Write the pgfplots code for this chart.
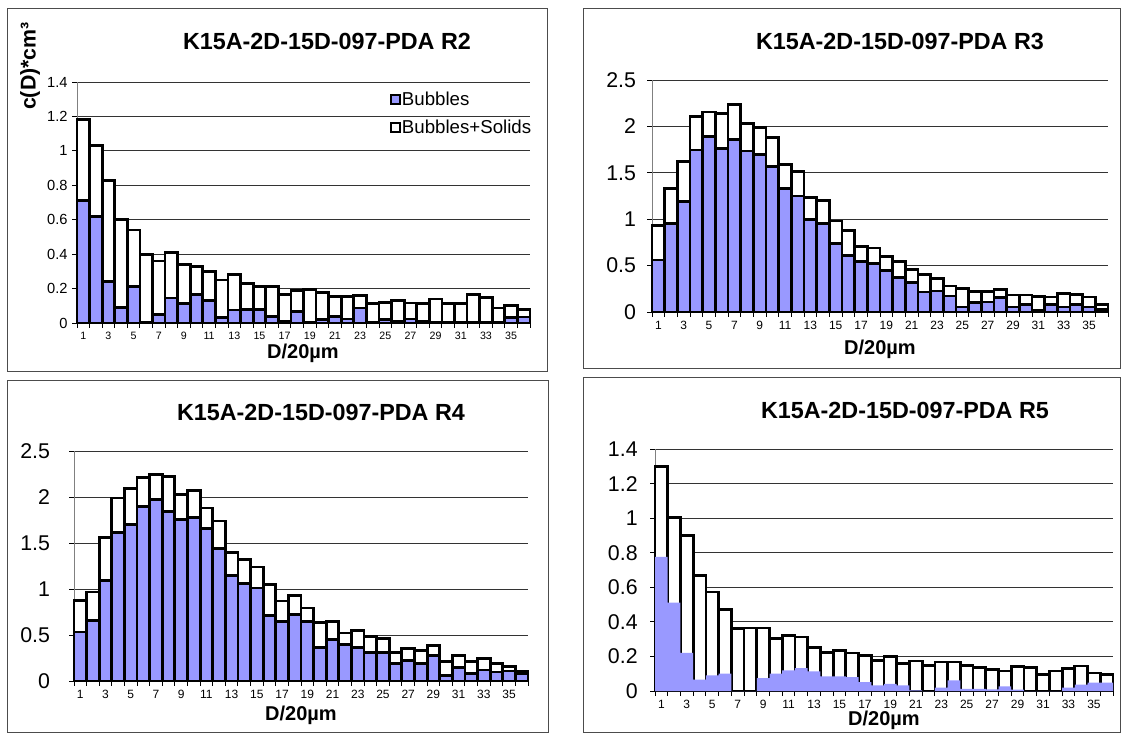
\documentclass[border=0pt]{standalone}
\usepackage{pgfplots}
\pgfplotsset{compat=1.18}
\usepackage{pgfplotstable}
\usepackage{fontspec}
\setmainfont{Liberation Sans}
\definecolor{bub}{HTML}{9999FF}
\def\u{0.75pt}

\pgfplotstableread{
x w b
1 1.18 0.71
2 1.03 0.62
3 0.83 0.24
4 0.60 0.09
5 0.54 0.21
6 0.40 0.005
7 0.36 0.05
8 0.41 0.145
9 0.34 0.115
10 0.33 0.165
11 0.30 0.13
12 0.25 0.03
13 0.28 0.075
14 0.23 0.077
15 0.21 0.077
16 0.21 0.04
17 0.165 0.01
18 0.187 0.068
19 0.193 0.004
20 0.178 0.02
21 0.154 0.04
22 0.154 0.023
23 0.16 0.087
24 0.112 0.005
25 0.12 0.02
26 0.13 0.01
27 0.116 0.023
28 0.112 0.01
29 0.139 0.005
30 0.112 0.005
31 0.112 0.005
32 0.164 0.005
33 0.149 0.005
34 0.087 0.005
35 0.10 0.033
36 0.077 0.035
}\dataA

\pgfplotstableread{
x w b
1 0.93 0.56
2 1.33 0.955
3 1.62 1.195
4 2.11 1.745
5 2.155 1.89
6 2.14 1.76
7 2.24 1.855
8 2.03 1.735
9 1.99 1.70
10 1.88 1.57
11 1.59 1.335
12 1.51 1.25
13 1.23 1.0
14 1.205 0.953
15 0.98 0.737
16 0.875 0.61
17 0.71 0.543
18 0.69 0.52
19 0.60 0.45
20 0.54 0.37
21 0.46 0.317
22 0.405 0.216
23 0.36 0.227
24 0.28 0.173
25 0.255 0.054
26 0.22 0.10
27 0.22 0.108
28 0.245 0.155
29 0.183 0.054
30 0.183 0.083
31 0.165 0.018
32 0.162 0.083
33 0.198 0.054
34 0.19 0.083
35 0.162 0.054
36 0.083 0.029
}\dataB

\pgfplotstableread{
x w b
1 0.877 0.533
2 0.967 0.66
3 1.558 1.094
4 1.99 1.61
5 2.09 1.70
6 2.21 1.90
7 2.246 1.975
8 2.225 1.844
9 2.03 1.757
10 2.07 1.78
11 1.88 1.66
12 1.74 1.44
13 1.40 1.15
14 1.32 1.06
15 1.24 1.01
16 1.05 0.715
17 0.87 0.65
18 0.93 0.722
19 0.794 0.643
20 0.64 0.368
21 0.65 0.451
22 0.523 0.397
23 0.549 0.368
24 0.487 0.314
25 0.458 0.314
26 0.307 0.188
27 0.35 0.227
28 0.336 0.188
29 0.386 0.278
30 0.21 0.061
31 0.278 0.144
32 0.21 0.083
33 0.242 0.119
34 0.188 0.097
35 0.155 0.108
36 0.108 0.079
}\dataC

\pgfplotstableread{
x w b
1 1.30 0.776
2 1.004 0.512
3 0.90 0.22
4 0.67 0.066
5 0.573 0.091
6 0.471 0.10
7 0.361 0.0
8 0.365 0.0
9 0.365 0.075
10 0.303 0.10
11 0.319 0.12
12 0.313 0.133
13 0.251 0.114
14 0.222 0.085
15 0.236 0.085
16 0.22 0.081
17 0.207 0.052
18 0.178 0.033
19 0.20 0.042
20 0.158 0.033
21 0.174 0.004
22 0.147 0.0
23 0.168 0.019
24 0.168 0.062
25 0.149 0.013
26 0.135 0.013
27 0.124 0.01
28 0.116 0.027
29 0.143 0.008
30 0.135 0.0
31 0.097 0.0
32 0.116 0.0
33 0.129 0.019
34 0.145 0.037
35 0.104 0.048
36 0.097 0.048
}\dataD

\pgfplotsset{
  panel/.style={
    scale only axis, anchor=south west, clip=false,
    xmin=0.5, xmax=36.5, ymin=0,
    axis x line*=bottom, axis y line*=left,
    x axis line style={black, line width=0.75pt},
    y axis line style={gray, line width=0.75pt},
    xtick={1,3,...,35},
    minor xtick={0.5,1.5,...,36.5},
    major x tick style={draw=none},
    minor x tick style={black, line width=0.75pt},
    y tick style={black, line width=0.75pt},
    tick align=outside,
    major tick length=3.5pt, minor tick length=3.5pt,
    ymajorgrids, major grid style={black!80, line width=0.75pt},
    /pgf/number format/assume math mode=true,
    xticklabel style={font=\fontsize{9}{10}\selectfont},
    yticklabel style={font=\fontsize{16}{18}\selectfont},
  },
  wbar/.style={ybar, bar shift=0pt, bar width=1, fill=white, draw=black, line width=2.1pt},
  bbar/.style={ybar, bar shift=0pt, bar width=1, fill=bub, draw=black, line width=2.1pt},
  nbar/.style={ybar, bar shift=0pt, bar width=1, fill=bub, draw=none},
}

\begin{document}
\begin{tikzpicture}
\path (0,0) rectangle (1123*\u,-733*\u);
% panel frames
\draw[gray!60!black, line width=0.75pt] (7*\u,-8*\u) rectangle (547*\u,-371*\u);
\draw[gray!60!black, line width=0.75pt] (583*\u,-8*\u) rectangle (1120*\u,-368*\u);
\draw[gray!60!black, line width=0.75pt] (7*\u,-380*\u) rectangle (548*\u,-732*\u);
\draw[gray!60!black, line width=0.75pt] (583*\u,-377*\u) rectangle (1120*\u,-732*\u);

% R2
\begin{axis}[panel, at={(77*\u,-323*\u)}, width=453*\u, height=241*\u,
  ymax=1.4, ytick={0,0.2,0.4,0.6,0.8,1,1.2,1.4},
  yticklabel style={font=\fontsize{11}{12}\selectfont},
  xticklabel style={font=\fontsize{8}{9}\selectfont},
  legend style={at={(0.690,0.965)}, anchor=north west, draw=none, fill=none,
    font=\fontsize{14}{15}\selectfont, row sep=7pt, inner sep=0pt,
    nodes={inner sep=1pt}},
  legend cell align=left, reverse legend]
\addplot[wbar, legend image code/.code={\draw[fill=white, draw=black, line width=1.3pt] (0pt,-3.4pt) rectangle (6.8pt,3.4pt);}] table[x=x,y=w]{\dataA};
\addlegendentry{Bubbles+Solids}
\addplot[bbar, legend image code/.code={\draw[fill=bub, draw=black, line width=1.3pt] (0pt,-3.4pt) rectangle (6.8pt,3.4pt);}] table[x=x,y=b]{\dataA};
\addlegendentry{Bubbles}
\end{axis}

% R3
\begin{axis}[panel, at={(652*\u,-312*\u)}, width=456*\u, height=232*\u,
  ymax=2.5, ytick={0,0.5,1,1.5,2,2.5},
  yticklabel style={xshift=-5pt}]
\addplot[wbar] table[x=x,y=w]{\dataB};
\addplot[bbar] table[x=x,y=b]{\dataB};
\end{axis}

% R4
\begin{axis}[panel, at={(74*\u,-681*\u)}, width=454*\u, height=230*\u,
  ymax=2.5, ytick={0,0.5,1,1.5,2,2.5},
  yticklabel style={xshift=-11pt}]
\addplot[wbar] table[x=x,y=w]{\dataC};
\addplot[bbar] table[x=x,y=b]{\dataC};
\end{axis}

% R5
\begin{axis}[panel, at={(655*\u,-691*\u)}, width=458*\u, height=242*\u,
  ymax=1.4, ytick={0,0.2,0.4,0.6,0.8,1,1.2,1.4},
  yticklabel style={xshift=-6pt}]
\addplot[wbar] table[x=x,y=w]{\dataD};
\addplot[nbar] table[x=x,y=b]{\dataD};
\end{axis}

% titles
\tikzset{ttl/.style={font=\bfseries\fontsize{17.5}{19}\selectfont, inner sep=0pt},
         xl/.style={font=\bfseries\fontsize{15}{16}\selectfont, inner sep=0pt}}
\node[ttl] at (327*\u,-41*\u) {K15A-2D-15D-097-PDA R2};
\node[ttl] at (900*\u,-41*\u) {K15A-2D-15D-097-PDA R3};
\node[ttl] at (321*\u,-412*\u) {K15A-2D-15D-097-PDA R4};
\node[ttl] at (905*\u,-410*\u) {K15A-2D-15D-097-PDA R5};
% x labels
\node[xl, anchor=base] at (303*\u,-358*\u) {D/20µm};
\node[xl, anchor=base] at (880*\u,-354*\u) {D/20µm};
\node[xl, anchor=base] at (301*\u,-720*\u) {D/20µm};
\node[xl, anchor=base] at (884*\u,-725*\u) {D/20µm};
% y label
\node[rotate=90, font=\bfseries\fontsize{16}{17}\selectfont, inner sep=0pt] at (30*\u,-66*\u) {c(D)*cm³};
\end{tikzpicture}
\end{document}
